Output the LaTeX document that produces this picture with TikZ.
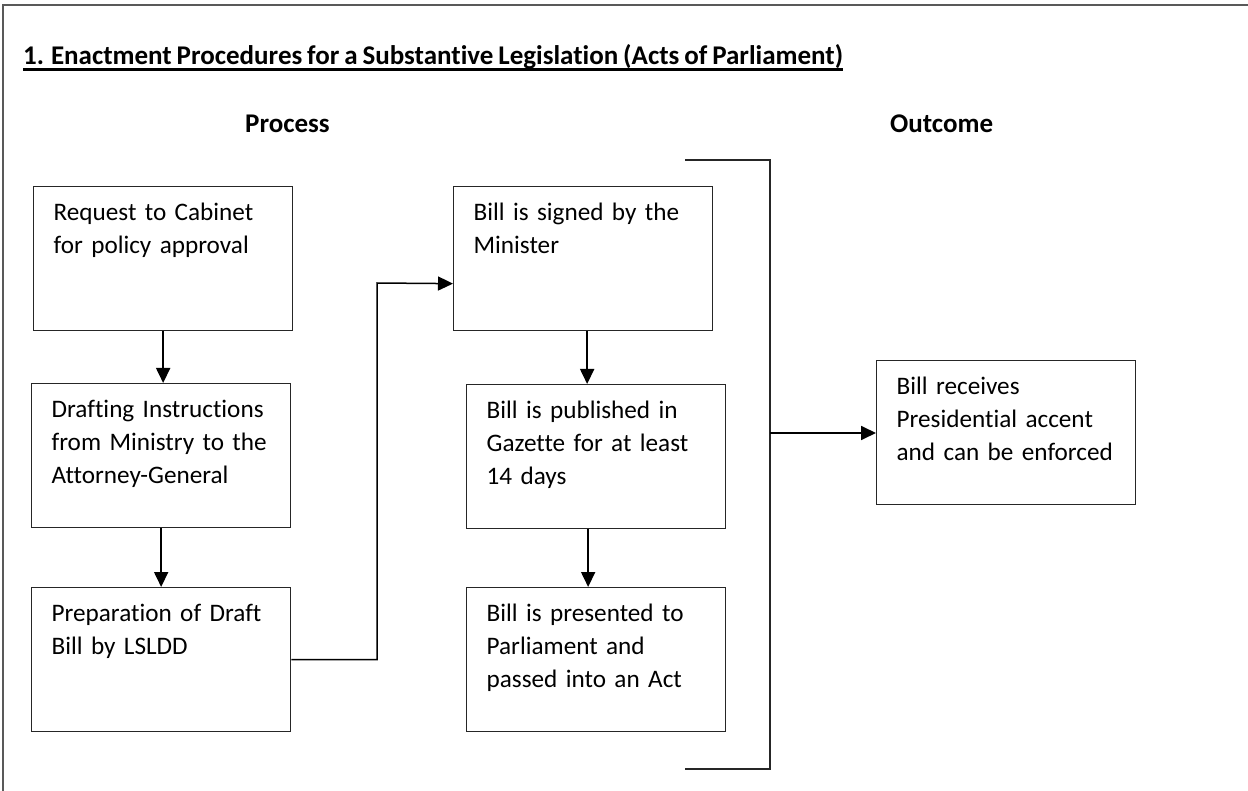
\documentclass[tikz,border=0pt]{standalone}
\usepackage{fontspec}
\setmainfont{Carlito}[Ligatures=NoCommon, WordSpace=0.8]
\usepackage{tikz}
\usetikzlibrary{arrows.meta,positioning,calc}
\tikzset{
  stepbox/.style={draw=black!85, line width=1.3pt, anchor=north west, align=left,
              text width=219pt, inner xsep=20pt, inner ysep=0pt,
              text height=34pt, text depth=110pt,
              font=\fontsize{25.2}{33}\selectfont},
  heading/.style={anchor=base west, inner sep=0pt, font=\fontsize{27}{30}\selectfont\bfseries},
  flow/.style={-{Triangle[length=15pt,width=14pt]}, line width=1.8pt},
  elbow/.style={-{Triangle[length=15pt,width=14pt]}, line width=1.5pt},
  bracket/.style={line width=1.5pt, black!85},
}

\begin{document}
\begin{tikzpicture}[x=1pt,y=-1pt]
  \useasboundingbox (0,0) rectangle (1248,791);
  \draw[line width=2pt, black!65] (1248,5) -- (3,5) -- (3,791);

  \node[heading] (title) at (23,65) {1. Enactment Procedures for a Substantive Legislation (Acts of Parliament)};
  \draw[line width=2.2pt] ([yshift=-4.5pt]title.base west) -- ([yshift=-4.5pt]title.base east);
  \node[heading] (proc) at (245,133) {Process};
  \node[heading] (outc) at (890,133) {Outcome};

  % process column
  \node[stepbox] (req) at (33,186) {Request to Cabinet\\for policy approval};
  \node[stepbox] (drf) at (31,383) {Drafting Instructions\\from Ministry to the\\Attorney-General};
  \node[stepbox] (prep) at (31,587) {Preparation of Draft\\Bill by LSLDD};
  \node[stepbox] (sign) at (453,186) {Bill is signed by the\\Minister};
  \node[stepbox] (pub) at (466,384) {Bill is published in\\Gazette for at least\\14 days};
  \node[stepbox] (parl) at (466,587) {Bill is presented to\\Parliament and\\passed into an Act};

  % outcome
  \node[stepbox] (pres) at (876,360) {Bill receives\\Presidential accent\\and can be enforced};

  \draw[flow] (req.south) -- (req.south |- drf.north);
  \draw[flow] (drf.south) -- (drf.south |- prep.north);
  \coordinate (jog) at (377,283);
  \draw[elbow] (prep.east) -| (jog) -- ([yshift=-25pt]sign.west);
  \draw[flow] ([xshift=4pt]sign.south) -- ([xshift=4pt]sign.south |- pub.north);
  \draw[flow] ([xshift=-8pt]pub.south) -- ([xshift=-8pt]pub.south |- parl.north);

  % bracket round the process steps
  \coordinate (btop) at (685,160);
  \coordinate (bbot) at (685,769);
  \coordinate (bmid) at (770,433);
  \draw[bracket] (btop) -- (770,160) -- (770,769) -- (bbot);
  \draw[flow] (bmid) -- (bmid -| pres.west);
\end{tikzpicture}
\end{document}
